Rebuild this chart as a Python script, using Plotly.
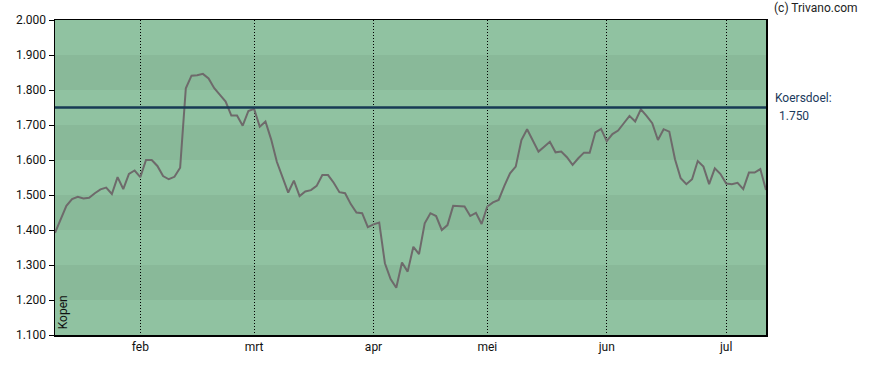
import plotly.graph_objects as go

# ---- data ----
prices = [
    1.392, 1.433, 1.469, 1.488, 1.495, 1.490, 1.492, 1.505, 1.516, 1.521,
    1.503, 1.551, 1.517, 1.560, 1.570, 1.551, 1.600, 1.600, 1.583, 1.554,
    1.545, 1.552, 1.578, 1.805, 1.841, 1.842, 1.846, 1.833, 1.805, 1.786,
    1.767, 1.727, 1.727, 1.698, 1.740, 1.746, 1.695, 1.710, 1.659, 1.595,
    1.548, 1.507, 1.541, 1.497, 1.510, 1.514, 1.526, 1.557, 1.557, 1.535,
    1.508, 1.505, 1.474, 1.450, 1.448, 1.408, 1.416, 1.421, 1.305, 1.260,
    1.235, 1.307, 1.281, 1.352, 1.331, 1.419, 1.448, 1.440, 1.400, 1.414,
    1.469, 1.469, 1.467, 1.440, 1.449, 1.417, 1.467, 1.479, 1.486, 1.526,
    1.562, 1.581, 1.657, 1.688, 1.656, 1.624, 1.638, 1.652, 1.622, 1.624,
    1.608, 1.586, 1.605, 1.621, 1.621, 1.679, 1.689, 1.654, 1.674, 1.684,
    1.705, 1.726, 1.710, 1.745, 1.726, 1.705, 1.657, 1.688, 1.681, 1.602,
    1.548, 1.531, 1.545, 1.597, 1.581, 1.531, 1.576, 1.560, 1.533, 1.531,
    1.535, 1.517, 1.564, 1.564, 1.574, 1.514,
]
month_labels = ["feb", "mrt", "apr", "mei", "jun", "jul"]
month_start_index = [15, 35, 56, 76, 97, 118]
y_ticks = [1.1, 1.2, 1.3, 1.4, 1.5, 1.6, 1.7, 1.8, 1.9, 2.0]
y_tick_labels = ["1.100", "1.200", "1.300", "1.400", "1.500",
                 "1.600", "1.700", "1.800", "1.900", "2.000"]
target_price = 1.750
target_label = "Koersdoel:"
target_value_label = "1.750"
advice_label = "Kopen"
credit = "(c) Trivano.com"

x_idx = list(range(len(prices)))

LIGHT = "#90c2a1"
DARK = "#89b999"
FONT = "Roboto"

fig = go.Figure()

# horizontal bands
shapes = []
for i in range(len(y_ticks) - 1):
    lo, hi = y_ticks[i], y_ticks[i + 1]
    color = LIGHT if i % 2 == 0 else DARK
    shapes.append(dict(type="rect", xref="paper", yref="y", x0=0, x1=1,
                       y0=lo, y1=hi, fillcolor=color, line=dict(width=0),
                       layer="below"))
# target line
shapes.append(dict(type="line", xref="paper", yref="y", x0=0, x1=1,
                   y0=target_price, y1=target_price,
                   line=dict(color="#173a55", width=2.5), layer="above"))

fig.add_trace(go.Scatter(x=x_idx, y=prices, mode="lines",
                         line=dict(color="#6e6a6b", width=2),
                         hoverinfo="skip", showlegend=False))

fig.update_layout(
    width=888, height=370,
    margin=dict(l=55, r=122, t=20, b=35),
    paper_bgcolor="white",
    plot_bgcolor=LIGHT,
    shapes=shapes,
    font=dict(family=FONT, size=12, color="#111111"),
    showlegend=False,
)

fig.update_xaxes(
    range=[0, len(prices) - 1],
    tickmode="array", tickvals=month_start_index, ticktext=month_labels,
    showgrid=True, gridcolor="#000000", gridwidth=1, griddash="1px,2px",
    showline=True, linecolor="#000000", linewidth=1.5, mirror=True,
    ticks="", zeroline=False,
    tickfont=dict(family=FONT, size=12, color="#111111"),
)
fig.update_yaxes(
    range=[1.1, 2.0],
    tickmode="array", tickvals=y_ticks, ticktext=y_tick_labels,
    showgrid=False,
    showline=True, linecolor="#000000", linewidth=1.5, mirror=True,
    ticks="outside", ticklen=5, tickcolor="#000000",
    zeroline=False,
    tickfont=dict(family=FONT, size=12, color="#111111"),
)

fig.add_annotation(text=target_label, xref="paper", yref="y", x=1, y=1.777,
                   xanchor="left", yanchor="middle", xshift=7, showarrow=False,
                   font=dict(family=FONT, size=12, color="#1b3a5c"))
fig.add_annotation(text=" " + target_value_label, xref="paper", yref="y", x=1,
                   y=1.726, xanchor="left", yanchor="middle", xshift=8,
                   showarrow=False,
                   font=dict(family=FONT, size=12, color="#1b3a5c"))
fig.add_annotation(text=credit, xref="paper", yref="paper", x=1, y=1.037,
                   xanchor="left", yanchor="middle", xshift=6, showarrow=False,
                   font=dict(family=FONT, size=12, color="#222222"))
fig.add_annotation(text=advice_label, xref="paper", yref="paper", x=0.0117,
                   y=0, xanchor="center", yanchor="bottom", yshift=4,
                   textangle=-90, showarrow=False,
                   font=dict(family=FONT, size=12, color="#111111"))

fig.write_html("out.html",
               config={"displayModeBar": False, "staticPlot": True},
               post_script="document.body.style.margin='0';"
                           "document.body.style.overflow='hidden';")
